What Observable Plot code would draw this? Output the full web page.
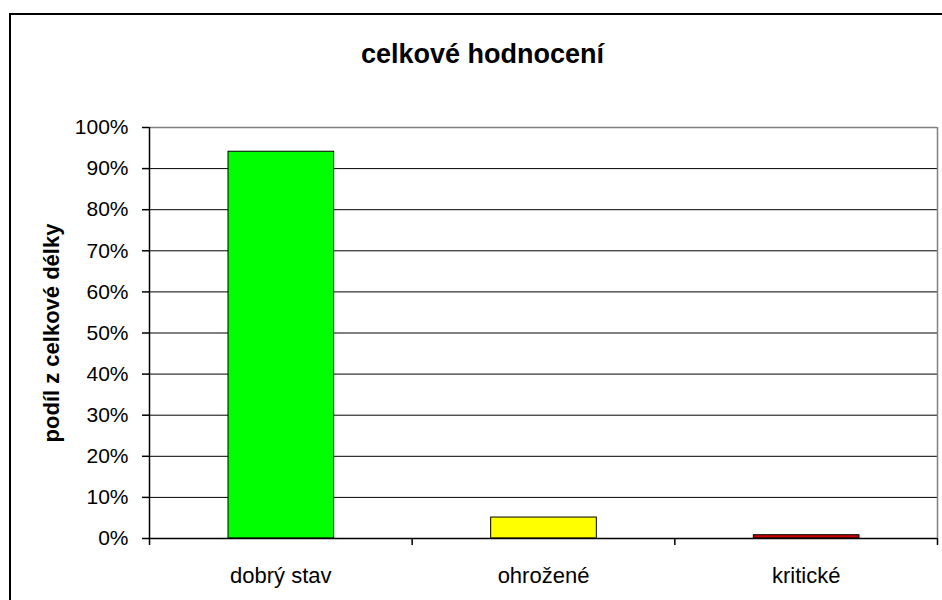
<!DOCTYPE html>
<html>
<head>
<meta charset="utf-8">
<script src="https://cdn.jsdelivr.net/npm/d3@7"></script>
<script src="https://cdn.jsdelivr.net/npm/@observablehq/plot@0.6"></script>
<style>
  html, body { margin: 0; padding: 0; background: #fff; overflow: hidden; width: 942px; height: 600px; }
  #chart { position: absolute; left: 0; top: 0; }
  #frame { position: absolute; left: 9px; top: 13px; width: 1000px; height: 1000px; border: 2px solid #000; pointer-events: none; }
</style>
</head>
<body>
<div id="chart"></div>
<div id="frame"></div>
<script>
const title = "celkové hodnocení";
const yLabel = "podíl z celkové délky";
const categories = ["dobrý stav", "ohrožené", "kritické"];
const values = [94.1, 5.1, 0.8];
const colors = ["#00ff00", "#ffff00", "#cc0000"];
const yTicks = [0, 10, 20, 30, 40, 50, 60, 70, 80, 90, 100];
const gridTicks = [10, 20, 30, 40, 50, 60, 70, 80, 90];
const xBoundaries = [0, 1, 2, 3];
const xCenters = [0.5, 1.5, 2.5];

const data = categories.map((c, i) => ({i, c, v: values[i], color: colors[i]}));

const plot = Plot.plot({
  width: 942,
  height: 600,
  marginLeft: 149,
  marginRight: 5,
  marginTop: 127,
  marginBottom: 62,
  style: {fontFamily: "'Liberation Sans', Arial, sans-serif", color: "#000", background: "transparent"},
  x: {type: "linear", domain: [0, 3], label: null},
  y: {domain: [0, 100], label: null},
  color: {type: "identity"},
  marks: [
    Plot.ruleY(gridTicks, {stroke: "#000", strokeWidth: 1}),
    Plot.ruleY([100], {stroke: "#808080", strokeWidth: 1.5}),
    Plot.ruleX([3], {stroke: "#808080", strokeWidth: 1.5}),
    Plot.rectY(data, {
      x1: d => d.i, x2: d => d.i + 1, y1: 0, y2: d => d.v,
      fill: d => d.color, stroke: "#000", strokeWidth: 1,
      insetLeft: 79, insetRight: 78
    }),
    Plot.ruleY([0], {stroke: "#000", strokeWidth: 1.5}),
    Plot.ruleX([0], {y1: 0, y2: 100, stroke: "#000", strokeWidth: 1.5}),
    Plot.axisY({ticks: yTicks, tickSize: 7, tickPadding: 14, tickFormat: d => d + "%", fontSize: 21, strokeWidth: 1.5, label: null}),
    Plot.axisX({ticks: xBoundaries, tickSize: 7, tickFormat: () => "", strokeWidth: 1.5, label: null}),
    Plot.axisX({ticks: xCenters, tickSize: 0, tickPadding: 28.6, tickFormat: d => categories[Math.floor(d)], fontSize: 22, label: null}),
    Plot.text([title], {frameAnchor: "top", text: d => d, dx: -61, dy: -65, lineAnchor: "bottom", fontWeight: "bold", fontSize: 27}),
    Plot.text([yLabel], {frameAnchor: "left", text: d => d, dx: -98, rotate: -90, textAnchor: "middle", lineAnchor: "middle", fontWeight: "bold", fontSize: 22})
  ]
});
document.getElementById("chart").appendChild(plot);
</script>
</body>
</html>
